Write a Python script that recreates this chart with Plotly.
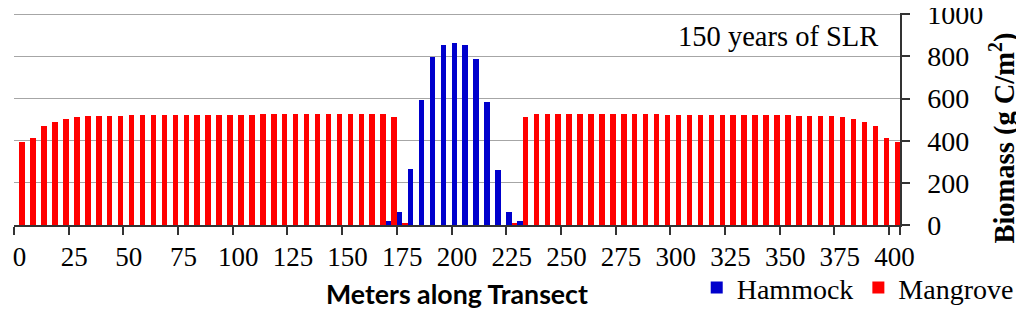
import plotly.graph_objects as go

meters = list(range(0, 405, 5))
labels = [str(m) for m in meters]
tick_labels = [str(m) for m in range(0, 405, 25)]

mangrove = [395, 412, 468, 491, 505, 512, 515, 517, 518, 519,
            520, 520, 521, 521, 522, 522, 523, 523, 523, 524,
            524, 524, 525, 525, 525, 526, 526, 526, 526, 527,
            527, 527, 527, 526, 512, 10, 0, 0, 0, 0,
            0, 0, 0, 0, 0, 10, 512, 526, 527, 527,
            527, 527, 526, 526, 526, 526, 525, 525, 525, 524,
            524, 524, 523, 523, 523, 522, 522, 521, 521, 520,
            520, 519, 518, 517, 515, 512, 505, 491, 468, 412,
            395]

hammock = [0] * 34 + [19, 62, 264, 591, 796, 856, 866, 856, 790, 584, 262, 60, 20] + [0] * 34

fig = go.Figure()
fig.add_bar(x=labels, y=hammock, name="Hammock", marker_color="#0000CC",
            marker_line_width=0)
fig.add_bar(x=labels, y=mangrove, name="Mangrove", marker_color="#FF0000",
            marker_line_width=0)

serif = "Liberation Serif"
fig.update_layout(
    width=1016, height=302,
    margin=dict(l=6, r=124, t=4.73, b=85, autoexpand=False),
    paper_bgcolor="white", plot_bgcolor="white",
    barmode="group", bargap=0, bargroupgap=0,
    showlegend=True,
    legend=dict(orientation="h", xref="paper", yref="paper",
                x=1.134, xanchor="right", y=-0.2968, yanchor="middle",
                font=dict(family=serif, size=28, color="black"),
                bgcolor="rgba(0,0,0,0)", itemwidth=30),
    xaxis=dict(type="category", range=[-0.5, 80.5], tickson="boundaries",
               tickmode="array", tickvals=tick_labels, ticktext=tick_labels,
               tickangle=0, automargin=False, ticklabelstandoff=7,
               ticklabeloverflow="allow",
               ticks="outside", ticklen=8, tickwidth=1.5, tickcolor="#333333",
               showline=True, linecolor="#333333", linewidth=1.5,
               showgrid=False, zeroline=False,
               tickfont=dict(family=serif, size=27, color="black")),
    yaxis=dict(side="right", range=[0, 1006], tickmode="array",
               tickvals=[0, 200, 400, 600, 800, 1000],
               automargin=False, ticklabeloverflow="allow",
               ticks="outside", ticklen=8, tickwidth=1.5, tickcolor="#333333",
               showline=True, linecolor="#333333", linewidth=1.5,
               showgrid=True, gridcolor="#A6A6A6", gridwidth=1.3,
               zeroline=False, ticklabelstandoff=12,
               tickfont=dict(family=serif, size=28, color="black")),
    annotations=[
        dict(text="150 years of SLR", xref="paper", yref="paper",
             x=0.9774, y=0.890, xanchor="right", yanchor="middle",
             showarrow=False, font=dict(family=serif, size=28.5, color="black")),
        dict(text="<b>Biomass (g C/m<sup>2</sup>)</b>", xref="paper", yref="paper",
             x=1.1162, y=0.4122, xanchor="center", yanchor="middle", textangle=-90,
             showarrow=False, font=dict(family=serif, size=28.5, color="black")),
        dict(text="<b>Meters along Transect</b>", xref="paper", yref="paper",
             x=0.5, y=-0.325, xanchor="center", yanchor="middle",
             showarrow=False, font=dict(family="Lato", size=26.7, color="black")),
    ],
)

fig.write_html("out.html")
